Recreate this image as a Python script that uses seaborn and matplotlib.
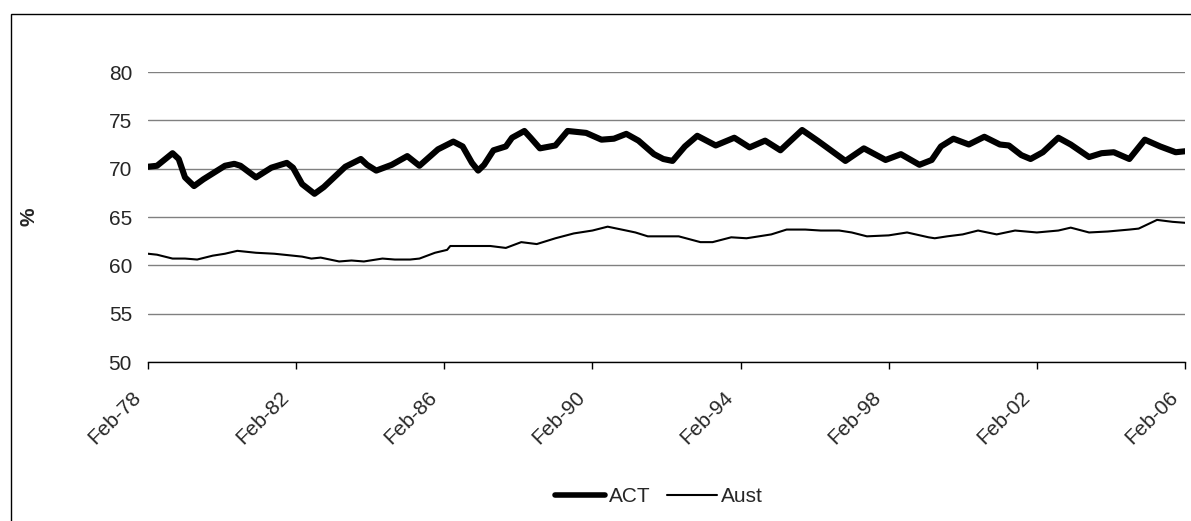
import matplotlib
matplotlib.use("Agg")
import matplotlib.pyplot as plt
import matplotlib.dates as mdates
import matplotlib.transforms as mtransforms
from matplotlib.patches import Rectangle
from matplotlib.lines import Line2D
import pandas as pd
import seaborn as sns

# Participation rate (%), months counted from Feb-1978
act_month = [0, 3, 8, 10, 12, 15, 18, 25, 28, 30, 35, 40, 45, 47, 50, 54, 57, 64, 69, 71, 74, 79, 84,
             88, 94, 99, 102, 105, 107, 109, 112, 116, 118, 122, 124, 127, 132, 136, 142, 147, 151, 155, 159, 164,
             167, 170, 174, 178, 184, 190, 195, 200, 205, 212, 217, 220, 226, 232, 239, 244, 250,
             254, 257, 261, 266, 271, 276, 279, 283, 286, 290, 295, 299, 305, 309, 313, 318, 323, 328, 333, 336]
act_value = [70.2, 70.3, 71.6, 71.0, 69.1, 68.2, 68.9, 70.3, 70.5, 70.3, 69.1, 70.1, 70.6, 70.1, 68.4, 67.4, 68.1, 70.2, 71.0, 70.4, 69.8, 70.4, 71.3,
             70.3, 72.0, 72.8, 72.3, 70.6, 69.8, 70.4, 71.9, 72.3, 73.2, 73.9, 73.2, 72.1, 72.4, 73.9, 73.7, 73.0, 73.1, 73.6, 72.9, 71.5,
             71.0, 70.8, 72.3, 73.4, 72.4, 73.2, 72.2, 72.9, 71.9, 74.0, 72.9, 72.2, 70.8, 72.1, 70.9, 71.5, 70.4,
             70.9, 72.3, 73.1, 72.5, 73.3, 72.5, 72.4, 71.4, 71.0, 71.7, 73.2, 72.5, 71.2, 71.6, 71.7, 71.0, 73.0, 72.3, 71.7, 71.8]

aust_month = [0, 3, 8, 12, 16, 21, 25, 29, 35, 41, 47, 50, 53, 56, 62, 66, 70, 76, 80, 85,
              88, 93, 97, 98, 105, 111, 116, 121, 126, 132, 138, 144, 149, 155, 158, 162, 169,
              172, 179, 183, 189, 194, 202, 207, 213, 218, 224, 228, 233, 240, 246, 253,
              255, 259, 264, 269, 275, 281, 288, 295, 299, 305, 311, 318, 321, 327, 332, 336]
aust_value = [61.2, 61.1, 60.7, 60.7, 60.6, 61.0, 61.2, 61.5, 61.3, 61.2, 61.0, 60.9, 60.7, 60.8, 60.4, 60.5, 60.4, 60.7, 60.6, 60.6,
              60.7, 61.3, 61.6, 62.0, 62.0, 62.0, 61.8, 62.4, 62.2, 62.8, 63.3, 63.6, 64.0, 63.6, 63.4, 63.0, 63.0,
              63.0, 62.4, 62.4, 62.9, 62.8, 63.2, 63.7, 63.7, 63.6, 63.6, 63.4, 63.0, 63.1, 63.4, 62.9,
              62.8, 63.0, 63.2, 63.6, 63.2, 63.6, 63.4, 63.6, 63.9, 63.4, 63.5, 63.7, 63.8, 64.7, 64.5, 64.4]

series_names = ["ACT", "Aust"]
y_ticks = [50, 55, 60, 65, 70, 75, 80]

start = pd.Timestamp("1978-02-01")
def to_dates(months):
    return [start + pd.DateOffset(months=m) for m in months]

df = pd.concat([
    pd.DataFrame({"date": to_dates(act_month), "value": act_value, "series": series_names[0]}),
    pd.DataFrame({"date": to_dates(aust_month), "value": aust_value, "series": series_names[1]}),
])

sns.set_style("white")
plt.rcParams["font.family"] = ["Liberation Sans", "DejaVu Sans"]
FS = 15

fig = plt.figure(figsize=(11.91, 5.21), dpi=100)
ax = fig.add_axes([148 / 1191, 1 - 362 / 521, (1185 - 148) / 1191, (362 - 72) / 521])

sns.lineplot(data=df, x="date", y="value", hue="series", size="series",
             palette={"ACT": "black", "Aust": "black"},
             sizes={"ACT": 4.4, "Aust": 1.5}, ax=ax, legend=False,
             solid_joinstyle="round", solid_capstyle="round")

ax.set_ylim(50, 80)
ax.set_yticks(y_ticks)
ax.set_xlim(start, pd.Timestamp("2006-02-01"))
ax.xaxis.set_major_locator(mdates.MonthLocator(bymonth=2, interval=48))
ax.xaxis.set_major_formatter(mdates.DateFormatter("%b-%y"))
ax.grid(axis="y", color="#808080", linewidth=1.0)
ax.grid(axis="x", visible=False)
ax.set_axisbelow(True)

for side in ["top", "right", "left"]:
    ax.spines[side].set_visible(False)
ax.spines["bottom"].set_color("black")
ax.spines["bottom"].set_linewidth(1.0)

ax.tick_params(axis="x", direction="out", length=5, width=1, color="black",
               labelsize=FS, pad=0, bottom=True)
ax.tick_params(axis="y", length=0, labelsize=FS, pad=11.5)

# Slanted date labels sit below and left of their tick
shift = mtransforms.ScaledTranslation(-0.17, -0.19, fig.dpi_scale_trans)
for lab in ax.get_xticklabels():
    lab.set_rotation(45)
    lab.set_ha("right")
    lab.set_va("top")
    lab.set_rotation_mode("anchor")
    lab.set_transform(lab.get_transform() + shift)

ax.set_xlabel("")
ax.set_ylabel("%", fontsize=FS, fontweight="bold")
ax.yaxis.set_label_coords(-0.106, 0.5)

handles = [Line2D([], [], color="black", linewidth=4.0),
           Line2D([], [], color="black", linewidth=1.5)]
fig.legend(handles, series_names, loc="center", bbox_to_anchor=(659 / 1191, 1 - 497 / 521),
           ncol=2, frameon=False, fontsize=FS, handlelength=2.4, handletextpad=0.2,
           columnspacing=0.75)

# Outer chart frame
fig.patches.append(Rectangle((11 / 1191, -0.1), 1.2, 0.1 + (1 - 14 / 521),
                             transform=fig.transFigure, fill=False,
                             edgecolor="black", linewidth=1.0))

fig.savefig("out.png", dpi=100)
